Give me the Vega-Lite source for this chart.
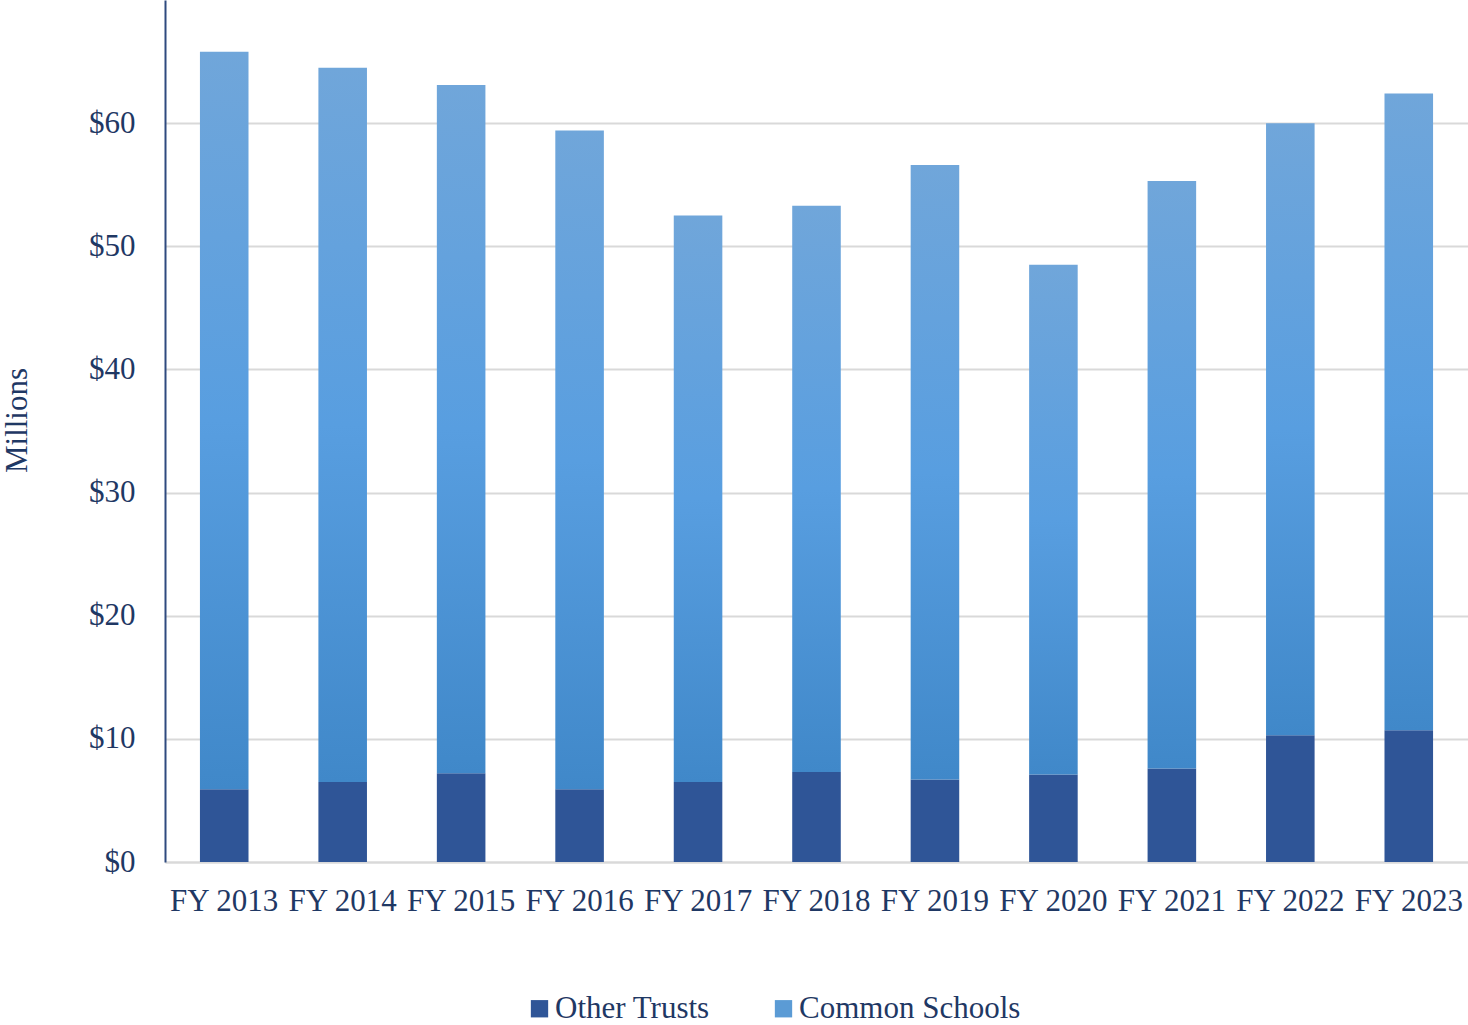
{
  "$schema": "https://vega.github.io/schema/vega-lite/v6.json",
  "width": 1303,
  "height": 862,
  "autosize": {"type": "none"},
  "padding": {"left": 165, "top": 0, "right": 0, "bottom": 163},
  "background": "white",
  "config": {
    "view": {"stroke": null},
    "font": "Liberation Serif"
  },
  "data": {
    "values": [
      {"year": "FY 2013", "series": "Other Trusts", "value": 5.9},
      {"year": "FY 2013", "series": "Common Schools", "value": 59.9},
      {"year": "FY 2014", "series": "Other Trusts", "value": 6.5},
      {"year": "FY 2014", "series": "Common Schools", "value": 58.0},
      {"year": "FY 2015", "series": "Other Trusts", "value": 7.2},
      {"year": "FY 2015", "series": "Common Schools", "value": 55.9},
      {"year": "FY 2016", "series": "Other Trusts", "value": 5.9},
      {"year": "FY 2016", "series": "Common Schools", "value": 53.5},
      {"year": "FY 2017", "series": "Other Trusts", "value": 6.5},
      {"year": "FY 2017", "series": "Common Schools", "value": 46.0},
      {"year": "FY 2018", "series": "Other Trusts", "value": 7.3},
      {"year": "FY 2018", "series": "Common Schools", "value": 46.0},
      {"year": "FY 2019", "series": "Other Trusts", "value": 6.7},
      {"year": "FY 2019", "series": "Common Schools", "value": 49.9},
      {"year": "FY 2020", "series": "Other Trusts", "value": 7.1},
      {"year": "FY 2020", "series": "Common Schools", "value": 41.4},
      {"year": "FY 2021", "series": "Other Trusts", "value": 7.6},
      {"year": "FY 2021", "series": "Common Schools", "value": 47.7},
      {"year": "FY 2022", "series": "Other Trusts", "value": 10.3},
      {"year": "FY 2022", "series": "Common Schools", "value": 49.7},
      {"year": "FY 2023", "series": "Other Trusts", "value": 10.7},
      {"year": "FY 2023", "series": "Common Schools", "value": 51.7}
    ]
  },
  "mark": {"type": "bar"},
  "encoding": {
    "x": {
      "field": "year",
      "type": "nominal",
      "scale": {"paddingInner": 0.59, "paddingOuter": 0.295},
      "axis": {
        "title": null,
        "labelAngle": 0,
        "labelFont": "Liberation Serif",
        "labelFontSize": 31,
        "labelColor": "#1F3864",
        "labelPadding": 24,
        "ticks": false,
        "domainColor": "#D9D9D9",
        "domainWidth": 2,
        "labelOverlap": false
      }
    },
    "y": {
      "field": "value",
      "type": "quantitative",
      "stack": "zero",
      "scale": {"domain": [0, 70], "nice": false},
      "axis": {
        "title": "Millions",
        "titleFont": "Liberation Serif",
        "titleFontSize": 31,
        "titleFontWeight": "normal",
        "titleColor": "#1F3864",
        "titlePadding": 55,
        "titleY": 420,
        "values": [0, 10, 20, 30, 40, 50, 60],
        "labelExpr": "'$' + datum.value",
        "labelFont": "Liberation Serif",
        "labelFontSize": 31,
        "labelColor": "#1F3864",
        "labelPadding": 30,
        "ticks": false,
        "domainColor": "#2F4A7F",
        "domainWidth": 2,
        "gridColor": "#D9D9D9",
        "gridWidth": 2
      }
    },
    "color": {
      "field": "series",
      "type": "nominal",
      "sort": ["Other Trusts", "Common Schools"],
      "scale": {"domain": ["Other Trusts", "Common Schools"], "range": ["#2F5597", "#5B9BD5"]},
      "condition": {
        "test": "datum.series === 'Common Schools'",
        "value": {
          "gradient": "linear",
          "x1": 0, "y1": 0, "x2": 0, "y2": 1,
          "stops": [
            {"offset": 0, "color": "#70A6DA"},
            {"offset": 0.5, "color": "#589EE0"},
            {"offset": 1, "color": "#4088C9"}
          ]
        }
      },
      "legend": {
        "title": null,
        "orient": "none",
        "legendX": 359,
        "legendY": 993,
        "direction": "horizontal",
        "symbolType": "square",
        "symbolSize": 300,
        "symbolStrokeWidth": 0,
        "labelFont": "Liberation Serif",
        "labelFontSize": 31,
        "labelColor": "#1F3864",
        "labelOffset": 0,
        "columnPadding": 58,
        "labelLimit": 400
      }
    },
    "order": {"field": "series", "sort": "descending"}
  }
}
